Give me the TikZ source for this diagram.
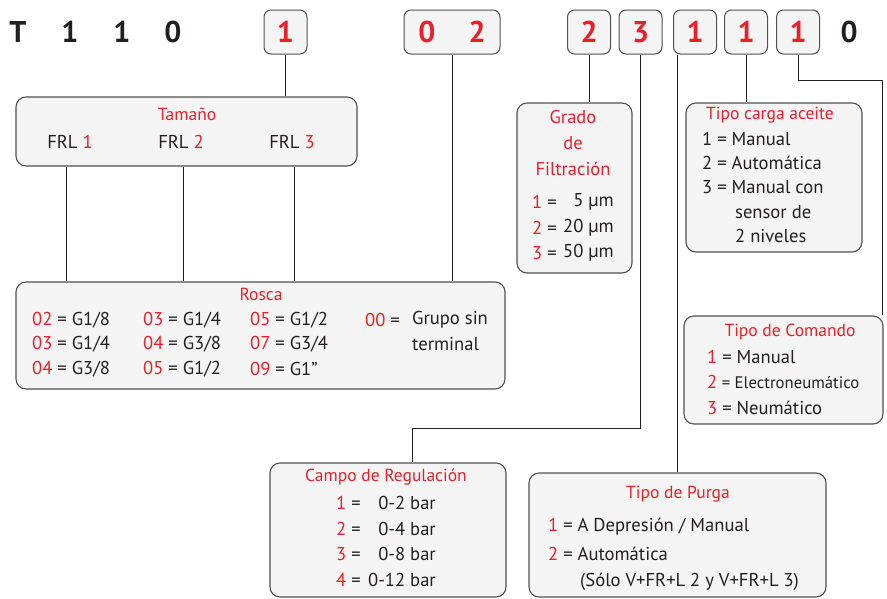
\documentclass[tikz,border=0pt]{standalone}
\usepackage{fontspec}
\setmainfont{PT Sans}
\usepackage{xcolor}
\usetikzlibrary{positioning}
\definecolor{codered}{HTML}{E8202A}
\definecolor{boxfill}{HTML}{F4F4F4}
\definecolor{boxedge}{HTML}{505050}
\definecolor{ink}{HTML}{231F20}
\newcommand{\rd}[1]{\textcolor{codered}{#1}}

\begin{document}
\begin{tikzpicture}[
  x=1pt,y=-1pt,
  codebox/.style={draw=boxedge,line width=1pt,rounded corners=7pt,fill=boxfill,minimum width=43pt,minimum height=44pt,inner sep=0pt,text=codered,font=\fontsize{30}{30}\selectfont\bfseries},
  codeplain/.style={inner sep=0pt,text=ink,font=\fontsize{30}{30}\selectfont\bfseries},
  panel/.style={draw=boxedge,line width=1.1pt,rounded corners=10pt,fill=boxfill,inner sep=0pt},
  title/.style={inner sep=0pt,text=codered,font=\fontsize{17.5}{17.5}\selectfont},
  entry/.style={inner sep=0pt,anchor=west,text=ink,font=\fontsize{18.6}{18.6}\selectfont},
  value/.style={inner sep=0pt,anchor=east,text=ink,font=\fontsize{18.6}{18.6}\selectfont},
  link/.style={draw=ink,line width=0.9pt}
]
\useasboundingbox (0,0) rectangle (887,598);

% code row
\node[codeplain] (pT) at (18,32) {T};
\node[codeplain] (pA) at (70,32) {1};
\node[codeplain] (pB) at (122,32) {1};
\node[codeplain] (pC) at (173,32) {0};
\node[codebox] (cSize) at (285.5,32) {1};
\node[codebox,minimum width=96pt] (cThread) at (452,32) {0\hspace{33pt}2};
\node[codebox] (cFilter) at (589,32) {2};
\node[codebox] (cReg) at (640.5,32) {3};
\node[codebox] (cPurge) at (695,32) {1};
\node[codebox] (cOil) at (746,32) {1};
\node[codebox] (cCmd) at (798,32) {1};
\node[codeplain] (pD) at (849,32) {0};

% panels
\node[panel,minimum width=341pt,minimum height=69pt] (size) at (186.5,131.5) {};
\node[panel,minimum width=489pt,minimum height=107pt] (thread) at (260.5,335.5) {};
\node[panel,minimum width=115pt,minimum height=170pt] (filter) at (574.5,188) {};
\node[panel,minimum width=176pt,minimum height=149pt] (oil) at (774,177.5) {};
\node[panel,minimum width=199pt,minimum height=108pt] (cmd) at (783.5,370) {};
\node[panel,minimum width=236pt,minimum height=134pt] (reg) at (388,530) {};
\node[panel,minimum width=297pt,minimum height=124pt] (purge) at (677.5,535) {};

% Tamaño
\node[title] (sizeT) at (187,114) {Tamaño};
\node[entry,anchor=center] (frl1) at (70,142) {FRL \rd{1}};
\node[entry,anchor=center] (frl2) at (181,142) {FRL \rd{2}};
\node[entry,anchor=center] (frl3) at (292,142) {FRL \rd{3}};

% Rosca
\node[title] (threadT) at (261,294) {Rosca};
\node[entry] (t11) at (32,320) {\rd{02} = G1/8};
\node[entry] (t12) at (32,344) {\rd{03} = G1/4};
\node[entry] (t13) at (32,369) {\rd{04} = G3/8};
\node[entry] (t21) at (143,320) {\rd{03} = G1/4};
\node[entry] (t22) at (143,344) {\rd{04} = G3/8};
\node[entry] (t23) at (143,369) {\rd{05} = G1/2};
\node[entry] (t31) at (250,320) {\rd{05} = G1/2};
\node[entry] (t32) at (250,344) {\rd{07} = G3/4};
\node[entry] (t33) at (250,369) {\rd{09} = G1\symbol{34}};
\node[entry] (t41) at (365,320) {\rd{00} =};
\node[entry] (t42) at (412,320) {Grupo sin};
\node[entry] (t43) at (412,344) {terminal};

% Grado de Filtración
\node[title,font=\fontsize{18.5}{18.5}\selectfont] (filterT1) at (573,117) {Grado};
\node[title,font=\fontsize{18.5}{18.5}\selectfont] (filterT2) at (573,143) {de};
\node[title,font=\fontsize{18.5}{18.5}\selectfont] (filterT3) at (573,169) {Filtración};
\node[entry] (f1) at (532,202) {\rd{1} =};
\node[entry] (f2) at (532,228) {\rd{2} =};
\node[entry] (f3) at (532,253) {\rd{3} =};
\node[value] (f1v) at (614,202) {5 µm};
\node[value] (f2v) at (614,228) {20 µm};
\node[value] (f3v) at (614,253) {50 µm};

% Tipo carga aceite
\node[title] (oilT) at (770,115) {Tipo carga aceite};
\node[entry] (o1) at (702,139) {1 = Manual};
\node[entry] (o2) at (702,163) {2 = Automática};
\node[entry] (o3) at (702,187) {3 = Manual con};
\node[entry] (o4) at (735,212) {sensor de};
\node[entry] (o5) at (735,236) {2 niveles};

% Tipo de Comando
\node[title] (cmdT) at (790,332) {Tipo de Comando};
\node[entry] (m1) at (707,357) {\rd{1} = Manual};
\node[entry,font=\fontsize{16.7}{16.7}\selectfont] (m2) at (707,382) {\rd{\fontsize{18.6}{18.6}\selectfont 2} = Electroneumático};
\node[entry] (m3) at (707,408) {\rd{3} = Neumático};

% Campo de Regulación
\node[title] (regT) at (386,477) {Campo de Regulación};
\node[entry] (r1) at (336,503) {\rd{1} =};
\node[entry] (r2) at (336,529) {\rd{2} =};
\node[entry] (r3) at (336,554) {\rd{3} =};
\node[entry] (r4) at (336,580) {\rd{4} =};
\node[value] (r1v) at (436,503) {0-2 bar};
\node[value] (r2v) at (436,529) {0-4 bar};
\node[value] (r3v) at (436,554) {0-8 bar};
\node[value] (r4v) at (436,580) {0-12 bar};

% Tipo de Purga
\node[title] (purgeT) at (678,494) {Tipo de Purga};
\node[entry] (u1) at (548,527) {\rd{1} = A Depresión / Manual};
\node[entry] (u2) at (548,554) {\rd{2} = Automática};
\node[entry] (u3) at (580,582) {(Sólo V+FR+L 2 y V+FR+L 3)};

% connectors
\coordinate (kReg) at (412,428);
\coordinate (kCmd) at (882,80);
\draw[link] (cSize.south) -- (cSize.south |- size.north);
\draw[link] (cThread.south) -- (cThread.south |- thread.north);
\draw[link] ([xshift=-4pt]frl1.south |- size.south) -- ([xshift=-4pt]frl1.south |- thread.north);
\draw[link] ([xshift=2pt]frl2.south |- size.south) -- ([xshift=2pt]frl2.south |- thread.north);
\draw[link] ([xshift=2pt]frl3.south |- size.south) -- ([xshift=2pt]frl3.south |- thread.north);
\draw[link] (cFilter.south) -- (cFilter.south |- filter.north);
\draw[link] (cReg.south) |- (kReg) -- (kReg |- reg.north);
\draw[link] (purge.north |- cPurge.south) -- (purge.north);
\draw[link] (cOil.south) -- (cOil.south |- oil.north);
\draw[link] (cCmd.south) |- (kCmd) -- (kCmd |- cmd.north);
\end{tikzpicture}
\end{document}
